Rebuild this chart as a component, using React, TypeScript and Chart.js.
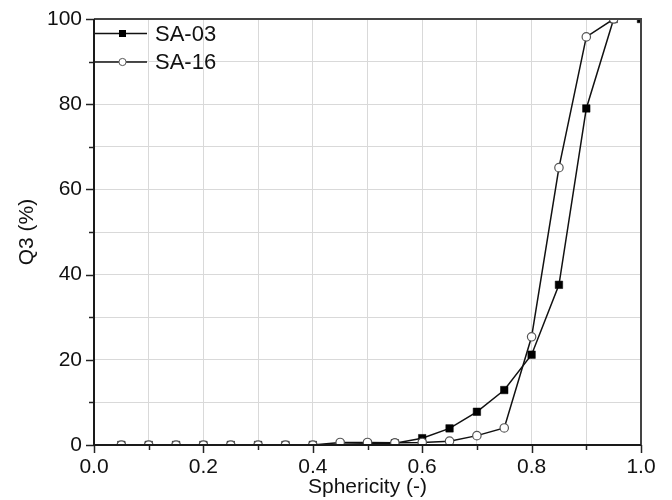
import React, { useEffect, useRef } from 'react';
import { Chart, registerables } from 'chart.js';

Chart.register(...registerables);

// ---- data ----
const sphericity = [0.05, 0.1, 0.15, 0.2, 0.25, 0.3, 0.35, 0.4, 0.45, 0.5, 0.55, 0.6, 0.65, 0.7, 0.75, 0.8, 0.85, 0.9, 0.95, 1.0];
const sa03 = [0, 0, 0, 0, 0, 0, 0, 0, 0.2, 0.3, 0.4, 1.6, 3.9, 7.8, 12.9, 21.2, 37.6, 79.0, 100, 100];
const sa16 = [0, 0, 0, 0, 0, 0, 0, 0, 0.6, 0.6, 0.5, 0.6, 0.9, 2.2, 4.0, 25.4, 65.1, 95.8, 100];
const seriesNames = ['SA-03', 'SA-16'];
const xTitle = 'Sphericity (-)';
const yTitle = 'Q3 (%)';

const FONT = "'Liberation Sans', Arial, sans-serif";

const framePlugin = {
  id: 'frameAndLegend',
  afterDatasetsDraw(chart: any) {
    const { ctx, chartArea } = chart;
    const { left, right, top, bottom } = chartArea;
    const xs = chart.scales.x;
    const ys = chart.scales.y;
    ctx.save();
    // tick marks
    ctx.strokeStyle = '#222';
    ctx.lineWidth = 1.5;
    xs.ticks.forEach((t: any, i: number) => {
      const px = Math.round(xs.getPixelForValue(t.value)) + 0.5;
      const len = i % 2 === 0 ? 8 : 5;
      ctx.beginPath();
      ctx.moveTo(px, bottom);
      ctx.lineTo(px, bottom + len);
      ctx.stroke();
    });
    ys.ticks.forEach((t: any, i: number) => {
      const py = Math.round(ys.getPixelForValue(t.value)) + 0.5;
      const len = i % 2 === 0 ? 8 : 5;
      ctx.beginPath();
      ctx.moveTo(left, py);
      ctx.lineTo(left - len, py);
      ctx.stroke();
    });
    // frame
    ctx.lineWidth = 2;
    ctx.strokeStyle = '#444';
    ctx.beginPath();
    ctx.moveTo(left, top);
    ctx.lineTo(right, top);
    ctx.lineTo(right, bottom);
    ctx.stroke();
    ctx.strokeStyle = '#1a1a1a';
    ctx.beginPath();
    ctx.moveTo(left, top);
    ctx.lineTo(left, bottom);
    ctx.lineTo(right, bottom);
    ctx.stroke();

    // legend
    chart.data.datasets.forEach((ds: any, i: number) => {
      const yy = top + 14.5 + i * 28.5;
      ctx.strokeStyle = ds.borderColor;
      ctx.lineWidth = ds.borderWidth;
      ctx.beginPath();
      ctx.moveTo(left + 1, yy);
      ctx.lineTo(left + 53, yy);
      ctx.stroke();
      const mx = left + 28.5;
      ctx.lineWidth = 1;
      if (ds.pointStyle === 'rect') {
        ctx.fillStyle = ds.pointBackgroundColor;
        ctx.fillRect(mx - 3.5, yy - 3.5, 7, 7);
      } else {
        ctx.fillStyle = ds.pointBackgroundColor;
        ctx.strokeStyle = ds.pointBorderColor;
        ctx.beginPath();
        ctx.arc(mx, yy, 3.6, 0, Math.PI * 2);
        ctx.fill();
        ctx.stroke();
      }
      ctx.fillStyle = '#111';
      ctx.font = `22px ${FONT}`;
      ctx.textBaseline = 'middle';
      ctx.textAlign = 'left';
      ctx.fillText(ds.label, left + 61, yy + 1);
    });
    ctx.restore();
  },
};

export default function App() {
  const canvasRef = useRef<HTMLCanvasElement | null>(null);

  useEffect(() => {
    const canvas = canvasRef.current;
    if (!canvas) return;
    const chart = new Chart(canvas, {
      type: 'line',
      data: {
        datasets: [
          {
            label: seriesNames[0],
            data: sphericity.slice(0, sa03.length).map((x, i) => ({ x, y: sa03[i] })),
            borderColor: '#111',
            borderWidth: 1.5,
            pointStyle: 'rect',
            pointRadius: 5.3,
            pointBackgroundColor: '#000',
            pointBorderColor: '#000',
            pointBorderWidth: 0.5,
            clip: 0,
            order: 1,
          },
          {
            label: seriesNames[1],
            data: sphericity.slice(0, sa16.length).map((x, i) => ({ x, y: sa16[i] })),
            borderColor: '#111',
            borderWidth: 1.5,
            pointStyle: 'circle',
            pointRadius: 4.2,
            pointBackgroundColor: '#fff',
            pointBorderColor: '#555',
            pointBorderWidth: 1.2,
            clip: 0,
            order: 0,
          },
        ],
      },
      options: {
        responsive: false,
        animation: false,
        layout: { padding: { top: 19, right: 31, left: 0, bottom: 0 } },
        plugins: { legend: { display: false }, tooltip: { enabled: false } },
        scales: {
          x: {
            type: 'linear',
            min: 0,
            max: 1,
            afterFit: (s: any) => { s.height = 55; s.paddingLeft = 0; s.paddingRight = 0; },
            grid: { color: '#d9d9d9', lineWidth: 1, drawTicks: false },
            border: { display: false },
            ticks: {
              stepSize: 0.1,
              autoSkip: false,
              maxRotation: 0,
              padding: 10,
              color: '#111',
              font: { family: FONT, size: 21 },
              callback: (v: any, i: number) => (i % 2 === 0 ? Number(v).toFixed(1) : ''),
            },
            title: {
              display: true,
              text: xTitle,
              color: '#111',
              font: { family: FONT, size: 21 },
              padding: { top: 0, bottom: 0 },
            },
          },
          y: {
            type: 'linear',
            min: 0,
            max: 100,
            afterFit: (s: any) => { s.width = 94; s.paddingTop = 0; s.paddingBottom = 0; },
            grid: { color: '#d9d9d9', lineWidth: 1, drawTicks: false },
            border: { display: false },
            ticks: {
              stepSize: 10,
              autoSkip: false,
              padding: 12,
              color: '#111',
              font: { family: FONT, size: 21 },
              callback: (v: any, i: number) => (i % 2 === 0 ? String(v) : ''),
            },
            title: {
              display: true,
              text: yTitle,
              color: '#111',
              font: { family: FONT, size: 21 },
              padding: { top: 15, bottom: 0 },
            },
          },
        },
      },
      plugins: [framePlugin],
    } as any);
    return () => chart.destroy();
  }, []);

  return (
    <div style={{ position: 'absolute', left: 0, top: 0, width: 672, height: 500, background: '#fff' }}>
      <canvas ref={canvasRef} width={672} height={500} style={{ display: 'block' }} />
    </div>
  );
}
